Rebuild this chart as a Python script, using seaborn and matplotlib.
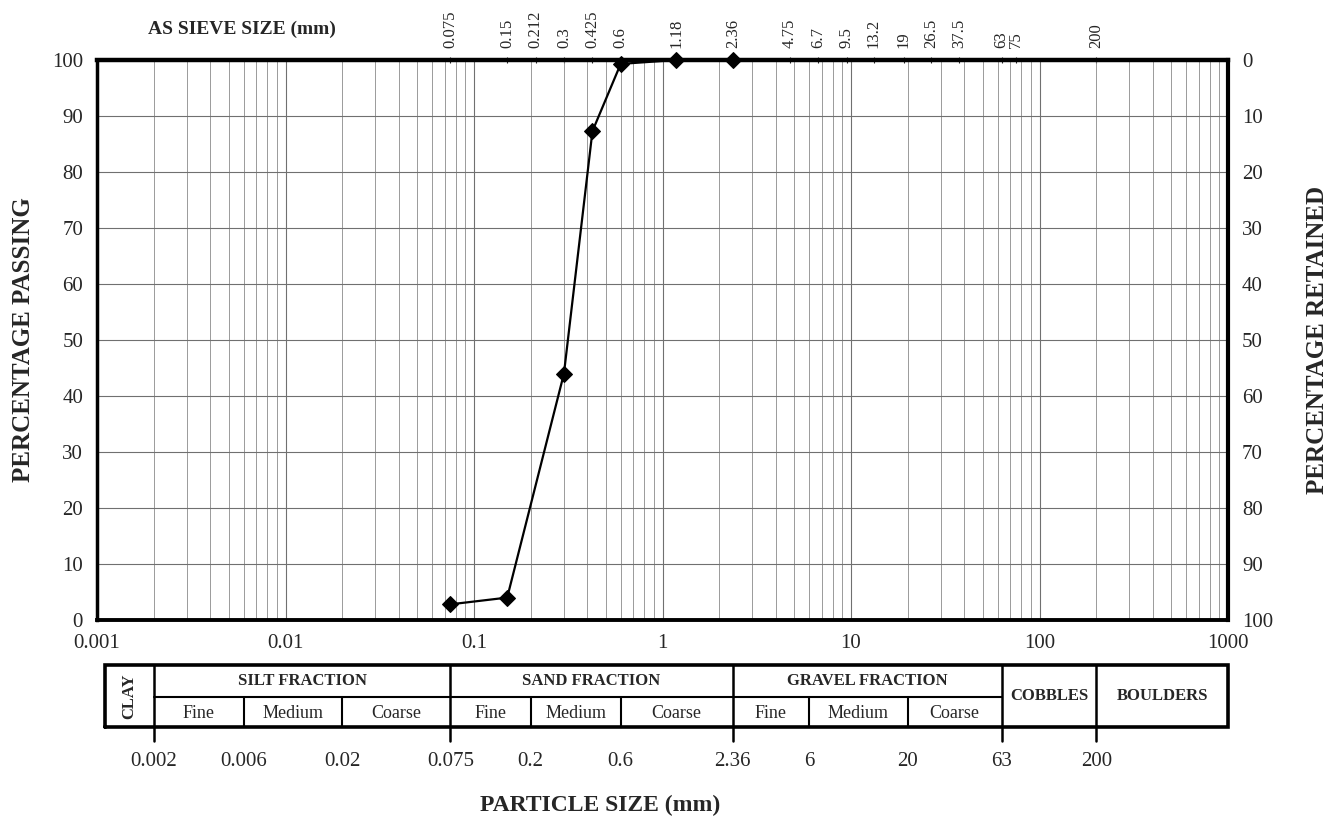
import matplotlib.pyplot as plt
import matplotlib.ticker as mticker
import pandas as pd
import seaborn as sns

# Sieve analysis results
sieve_mm = [0.075, 0.15, 0.3, 0.425, 0.6, 1.18, 2.36]
passing = [2.8, 4.0, 44.0, 87.3, 99.3, 100.0, 100.0]

# AS sieve sizes shown along the top
as_sieves = [0.075, 0.15, 0.212, 0.3, 0.425, 0.6, 1.18, 2.36, 4.75, 6.7, 9.5,
             13.2, 19, 26.5, 37.5, 63, 75, 200]
as_sieve_labels = ['0.075', '0.15', '0.212', '0.3', '0.425', '0.6', '1.18', '2.36',
                   '4.75', '6.7', '9.5', '13.2', '19', '26.5', '37.5', '63', '75', '200']

# Classification chart below the plot
main_bounds = [0.002, 0.075, 2.36, 63, 200]
sub_bounds = [0.006, 0.02, 0.2, 0.6, 6, 20]
bound_labels = {0.002: '0.002', 0.006: '0.006', 0.02: '0.02', 0.075: '0.075', 0.2: '0.2',
                0.6: '0.6', 2.36: '2.36', 6: '6', 20: '20', 63: '63', 200: '200'}
fractions = [('SILT FRACTION', 0.002, 0.075), ('SAND FRACTION', 0.075, 2.36),
             ('GRAVEL FRACTION', 2.36, 63)]
sub_names = ['Fine', 'Medium', 'Coarse']
table_left, table_right = 0.0011, 1000

df = pd.DataFrame({'size': sieve_mm, 'passing': passing})

sns.set_style('white')
plt.rcParams['font.family'] = ['Liberation Serif', 'DejaVu Serif']

fig = plt.figure(figsize=(13.31, 8.21), dpi=100)
W, H = 1331, 821
ax = fig.add_axes([97 / W, 1 - 620 / H, (1228 - 97) / W, (620 - 60) / H])

sns.lineplot(data=df, x='size', y='passing', marker='D', markersize=8, color='black',
             linewidth=1.6, markeredgecolor='black', ax=ax, clip_on=False, zorder=5)

ax.set_xscale('log')
ax.set_xlim(0.001, 1000)
ax.set_ylim(0, 100)
ax.xaxis.set_minor_locator(mticker.LogLocator(base=10, subs=range(2, 10), numticks=20))
ax.set_xticks([0.001, 0.01, 0.1, 1, 10, 100, 1000])
ax.set_xticklabels(['0.001', '0.01', '0.1', '1', '10', '100', '1000'])
ax.xaxis.set_minor_formatter(mticker.NullFormatter())
ax.set_yticks(range(0, 101, 10))
ax.grid(True, which='major', axis='both', color='#707070', linewidth=0.8)
ax.grid(True, which='minor', axis='x', color='#8a8a8a', linewidth=0.6)
ax.tick_params(axis='both', which='both', length=0, labelsize=15, pad=10)
ax.set_xlabel('')
ax.set_ylabel('PERCENTAGE PASSING', fontsize=18, fontweight='bold', labelpad=12)
for side in ['top', 'bottom', 'left', 'right']:
    ax.spines[side].set_color('black')
ax.spines['top'].set_linewidth(3.2)
ax.spines['bottom'].set_linewidth(2.8)
ax.spines['left'].set_linewidth(2.5)
ax.spines['right'].set_linewidth(3.0)

# right axis: percentage retained
ax2 = ax.twinx()
ax2.set_ylim(100, 0)
ax2.set_yticks(range(0, 101, 10))
ax2.tick_params(axis='y', length=0, labelsize=15, pad=10)
ax2.set_ylabel('PERCENTAGE RETAINED', fontsize=18, fontweight='bold', labelpad=24)
ax2.grid(False)
for s in ax2.spines.values():
    s.set_visible(False)

# top axis: AS sieve sizes
top = ax.secondary_xaxis('top')
top.set_xticks(as_sieves)
top.set_xticklabels(as_sieve_labels, rotation=90, fontsize=12)
top.xaxis.set_minor_locator(mticker.NullLocator())
top.tick_params(axis='x', direction='inout', length=5, width=0.8, pad=6)
for s in top.spines.values():
    s.set_visible(False)
fig.text(148 / W, 1 - 29 / H, 'AS SIEVE SIZE (mm)', fontsize=14, fontweight='bold',
         va='center', ha='left')

# classification table
tab = fig.add_axes([97 / W, 1 - 727 / H, (1228 - 97) / W, (727 - 665) / H])
tab.set_xscale('log')
tab.set_xlim(0.001, 1000)
tab.set_ylim(0, 1)
tab.axis('off')
tab.plot([table_left, table_right, table_right, table_left, table_left], [0, 0, 1, 1, 0],
         color='black', linewidth=2.6, clip_on=False, solid_joinstyle='miter')
tab.plot([0.002, 63], [0.48, 0.48], color='black', linewidth=1.5, clip_on=False)
for b in main_bounds:
    tab.plot([b, b], [1, -0.22], color='black', linewidth=1.8, clip_on=False)
for b in sub_bounds:
    tab.plot([b, b], [0, 0.48], color='black', linewidth=1.5, clip_on=False)
for b, lab in bound_labels.items():
    tab.text(b, -0.55, lab, ha='center', va='center', fontsize=15)

tab.text((table_left * 0.002) ** 0.5, 0.5, 'CLAY', rotation=90, ha='center', va='center',
         fontsize=12, fontweight='bold')
for name, lo, hi in fractions:
    tab.text((lo * hi) ** 0.5, 0.74, name, ha='center', va='center', fontsize=12,
             fontweight='bold')
    edges = [lo] + [b for b in sub_bounds if lo < b < hi] + [hi]
    for i, sn in enumerate(sub_names):
        tab.text((edges[i] * edges[i + 1]) ** 0.5, 0.22, sn, ha='center', va='center',
                 fontsize=13)
tab.text((63 * 200) ** 0.5, 0.5, 'COBBLES', ha='center', va='center', fontsize=12,
         fontweight='bold')
tab.text((200 * table_right) ** 0.5, 0.5, 'BOULDERS', ha='center', va='center',
         fontsize=12, fontweight='bold')

fig.text(600 / W, 1 - 805 / H, 'PARTICLE SIZE (mm)', fontsize=17, fontweight='bold',
         ha='center', va='center')

fig.savefig('out.png', dpi=100)
